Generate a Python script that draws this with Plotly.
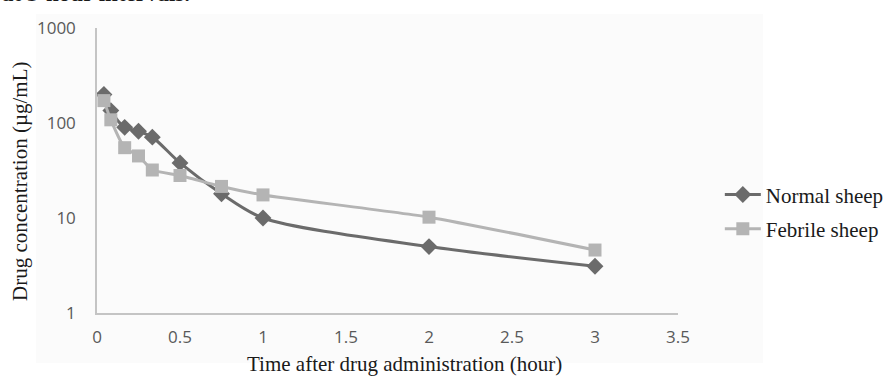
import plotly.graph_objects as go

# Data
time_h = [0.0417, 0.0833, 0.1667, 0.25, 0.3333, 0.5, 0.75, 1, 2, 3]
normal_sheep = [200, 135, 90, 82, 71, 38, 18, 10, 5.0, 3.1]
febrile_sheep = [172, 108, 55, 45, 32, 28, 21.5, 17.5, 10.2, 4.6]
x_ticks = [0, 0.5, 1, 1.5, 2, 2.5, 3, 3.5]
x_tick_labels = ["0", "0.5", "1", "1.5", "2", "2.5", "3", "3.5"]
y_ticks = [1, 10, 100, 1000]
y_tick_labels = ["1", "10", "100", "1000"]

serif = "Liberation Serif, Times New Roman, serif"
sans = "Open Sans, Liberation Sans, sans-serif"

fig = go.Figure()
fig.add_trace(go.Scatter(
    x=time_h, y=normal_sheep, name="Normal sheep", mode="lines+markers",
    line=dict(color="#6b6b6b", width=3, shape="spline", smoothing=0.8),
    marker=dict(symbol="diamond", size=13, color="#6b6b6b"),
    legendgroup="a",
))
fig.add_trace(go.Scatter(
    x=time_h, y=febrile_sheep, name="Febrile sheep", mode="lines+markers",
    line=dict(color="#b4b4b4", width=3, shape="spline", smoothing=0.5),
    marker=dict(symbol="square", size=13, color="#b4b4b4"),
    legendgroup="b",
))

fig.update_layout(
    width=884, height=376,
    margin=dict(l=97, r=206, t=28, b=63, autoexpand=False),
    paper_bgcolor="white",
    plot_bgcolor="rgba(0,0,0,0)",
    showlegend=True,
    legend=dict(
        x=1.072, y=0.355, xanchor="left", yanchor="middle",
        font=dict(family=serif, size=21, color="#1a1a1a"),
        bgcolor="rgba(0,0,0,0)", tracegroupgap=4,
        traceorder="grouped", itemwidth=36,
    ),
    xaxis=dict(
        range=[0, 3.5], tickvals=x_ticks, ticktext=x_tick_labels,
        showgrid=False, zeroline=False, showline=True, linecolor="#c4c4c4", linewidth=1.5,
        ticks="", tickfont=dict(family=sans, size=17, color="#595959"),
        ticklabelstandoff=8,
    ),
    yaxis=dict(
        type="log", range=[0, 3], tickvals=y_ticks, ticktext=y_tick_labels,
        showgrid=False, zeroline=False, showline=True, linecolor="#c4c4c4", linewidth=1.5,
        ticks="", tickfont=dict(family=sans, size=17, color="#595959"),
        ticklabelstandoff=16,
    ),
    shapes=[dict(
        type="rect", xref="paper", yref="paper",
        x0=(36 - 97) / 581, x1=(763 - 97) / 581,
        y0=(313 - 363) / 285, y1=(313 - 14) / 285,
        fillcolor="#fbfbfb", line=dict(width=0), layer="below",
    )],
    annotations=[
        dict(text="Time after drug administration (hour)", xref="paper", yref="paper",
             x=(404 - 97) / 581, y=(313 - 364) / 285, xanchor="center", yanchor="middle",
             showarrow=False, font=dict(family=serif, size=21, color="#1a1a1a")),
        dict(text="Drug concentration (µg/mL)", xref="paper", yref="paper",
             x=(20 - 97) / 581, y=(313 - 181) / 285, xanchor="center", yanchor="middle",
             textangle=-90, showarrow=False, font=dict(family=serif, size=21, color="#1a1a1a")),
        dict(text="<b>at 3-hour intervals.</b>", xref="paper", yref="paper",
             x=(0 - 97) / 581, y=(313 - 8) / 285, xanchor="left", yanchor="bottom",
             showarrow=False, font=dict(family=serif, size=23, color="#1a1a1a")),
    ],
)

fig.write_html(
    "out.html",
    config={"displayModeBar": False},
    post_script="document.body.style.margin='0';document.body.style.overflow='hidden';",
)
